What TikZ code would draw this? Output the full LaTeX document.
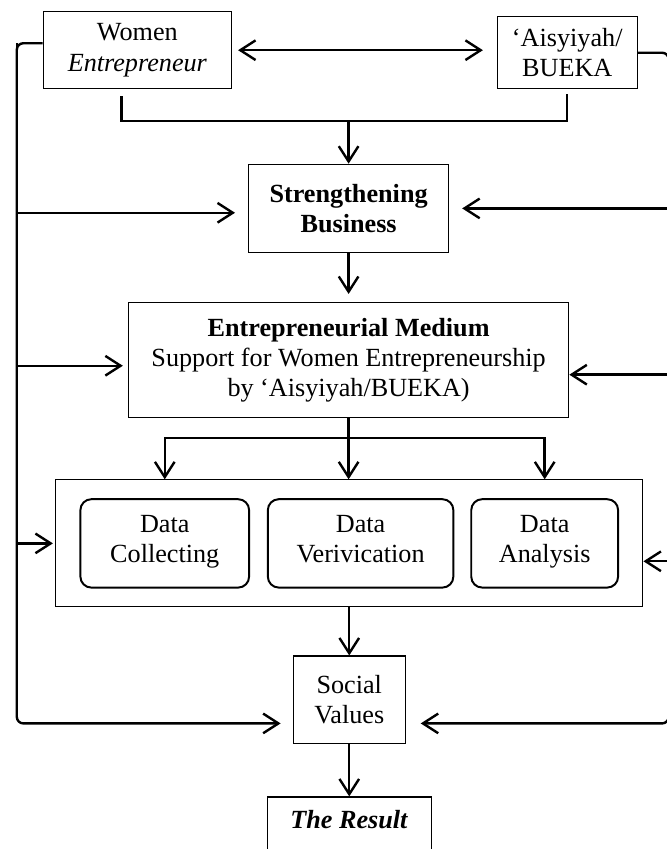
\documentclass[tikz,border=0pt]{standalone}
\usepackage{fontspec}
\setmainfont{Liberation Serif}
\usetikzlibrary{positioning,fit,arrows.meta}

\tikzset{
  >={Straight Barb[length=7pt,width=9pt]},
  block/.style={draw, line width=0.5pt, align=center, inner sep=2pt,
    font=\fontsize{12}{13.8}\selectfont},
  task/.style={block, rounded corners=5pt, line width=0.9pt, minimum height=40.5pt,
    execute at end node=\strut},
}

\begin{document}
\begin{tikzpicture}[line width=1.1pt]
  % Nodes
  \node[block, minimum width=91.8pt, minimum height=40.5pt] (strength) {\textbf{Strengthening}\\ \textbf{Business}} ; %
  \node[block, minimum width=86.4pt, minimum height=35.5pt, above=34pt of strength, xshift=-96.8pt] (women) {Women\\ \textit{Entrepreneur}} ; %
  \node[block, minimum width=64pt, minimum height=33.2pt, above=34pt of strength, xshift=100.2pt] (aisyiyah) {`Aisyiyah/\\ BUEKA} ; %
  \node[block, minimum width=201.8pt, minimum height=52.7pt, below=22.3pt of strength] (medium) {\textbf{Entrepreneurial Medium}\\ Support for Women Entrepreneurship\\ by `Aisyiyah/BUEKA)} ; %
  \node[task, minimum width=85pt, below=36.8pt of medium, xshift=5.5pt] (verif) {Data\\ Verivication} ; %
  \node[task, minimum width=77.3pt, left=7.7pt of verif] (collect) {Data\\ Collecting} ; %
  \node[task, minimum width=67.3pt, right=7.3pt of verif] (analysis) {Data\\ Analysis} ; %
  \node[block, fit=(collect) (analysis), inner xsep=10.9pt, inner ysep=8.4pt] (data) {} ; %
  \node[block, minimum width=51.4pt, minimum height=40pt, below=22pt of data] (social) {Social\\ Values} ; %
  \node[block, minimum width=75pt, text height=12.5pt, text depth=22pt, below=24.1pt of social] (result) {\textbf{\textit{The Result}}} ; %

  % Helper points
  \coordinate[below=3.2pt of women.south, xshift=-7.3pt] (wb) ; %
  \coordinate[below=2.3pt of aisyiyah.south] (ab) ; %
  \coordinate[below=14.5pt of women.south] (bar) ; %
  \coordinate[below=9.1pt of medium.south] (split) ; %
  \coordinate[left=11.8pt of women.west, yshift=3.2pt] (lrail) ; %
  \coordinate (rrail) at ([xshift=14.2pt]aisyiyah.east) ; %
  \coordinate (sl) at ([yshift=-10.9pt]social.west) ; %
  \coordinate (sr) at ([yshift=-10.9pt]social.east) ; %
  \coordinate (tl) at (lrail |- women.north) ; %
  \coordinate (br) at (rrail |- result.north) ; %
  \pgfresetboundingbox
  \useasboundingbox ([shift={(-7.7pt,5pt)}]tl) rectangle ([shift={(-1pt,-24.1pt)}]br) ; %

  % Edges
  \draw[<->, shorten <=2.7pt, shorten >=6.4pt] (women.east) -- (women.east -| aisyiyah.west) ; %
  \draw (wb) -- (wb |- bar) -- (ab |- bar) -- (ab) ; %
  \draw[->] (strength.north |- bar) -- (strength) ; %
  \draw[->, shorten >=3.6pt] (strength) -- (medium) ; %
  \draw[->] (medium) -- (split) -| (collect |- data.north) ; %
  \draw[->] (split) -| (analysis |- data.north) ; %
  \draw[->] (split) -- (split |- data.north) ; %
  \draw[->] (data) -- (social) ; %
  \draw[->] (social) -- (result) ; %

  % Side rails
  \draw[->, rounded corners=3pt, shorten >=5.5pt] (lrail -| women.west) -- (lrail) -- (lrail |- sl) -- (sl) ; %
  \draw[->, rounded corners=3pt, shorten >=6.8pt] (aisyiyah.east) -- (rrail) -- (rrail |- sr) -- (sr) ; %
  \draw[->, shorten >=5.9pt] (lrail) |- ([yshift=-2pt]strength.west) ; %
  \draw[->, shorten >=2.3pt] (lrail) |- ([yshift=-2.7pt]medium.west) ; %
  \draw[->, shorten >=1pt] (lrail) |- (data.west) ; %
  \draw[->, shorten >=5.9pt] (rrail) |- (strength.east) ; %
  \draw[->] (rrail) |- ([yshift=-6.8pt]medium.east) ; %
  \draw[->] (rrail) |- ([yshift=-8.2pt]data.east) ; %
\end{tikzpicture}
\end{document}
